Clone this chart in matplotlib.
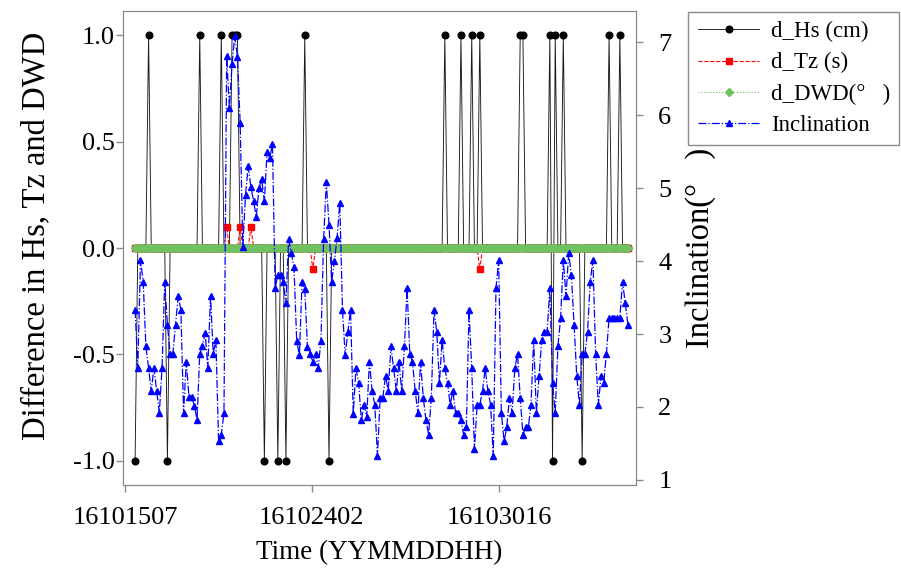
import numpy as np
import matplotlib
matplotlib.use('Agg')
import matplotlib.pyplot as plt

plt.rcParams['font.family'] = ['Liberation Serif', 'DejaVu Serif']

# inclination (deg), one value per record
inclination = [
    3.33, 2.54, 4.01, 3.72, 2.83, 2.54, 2.22, 2.54, 2.22, 1.92,
    2.54, 3.72, 3.13, 2.73, 2.73, 3.13, 3.52, 3.33, 1.92, 2.62,
    2.14, 2.14, 2.02, 1.82, 2.73, 2.83, 3.02, 2.54, 3.52, 2.73,
    2.92, 1.53, 1.62, 1.92,
    6.81, 6.10, 6.70, 7.09, 6.80, 5.90, 4.20, 4.91, 5.30, 5.02,
    4.82, 4.61, 5.00, 5.12, 4.82, 5.50, 5.41, 5.61, 3.63, 3.81,
    3.81, 3.72, 3.42, 4.30, 4.11, 3.92, 2.91, 2.71, 3.72, 3.62,
    2.82, 2.73, 2.62, 2.73, 2.54, 2.91, 4.30, 5.09, 4.50, 3.72,
    4.00, 4.32, 4.80, 3.33, 2.71, 3.03, 3.33, 1.91, 2.53, 2.33,
    1.82, 2.03, 1.86, 2.62, 2.22, 2.03, 1.33, 2.13, 2.13, 2.43,
    2.22, 2.83, 2.53, 2.22, 2.62, 2.22, 2.83, 3.63, 2.73, 2.62,
    2.22, 1.92, 2.62, 2.13, 1.82, 1.62, 2.13, 3.33, 3.03, 2.33,
    2.92, 2.53, 2.33, 2.03, 2.22, 1.92, 1.92, 1.82, 1.62, 1.72,
    3.33, 2.53, 1.42, 2.03, 2.03, 2.22, 2.53, 2.22, 2.03, 1.33,
    3.63, 4.01, 1.92, 1.53, 1.72, 2.13, 1.92, 2.53, 2.73, 2.13,
    1.62, 1.72, 1.72, 2.03, 2.92, 1.92, 2.42, 2.92, 3.03, 3.03,
    3.63, 2.33, 1.92, 2.83, 3.22, 4.02, 3.52, 4.11, 3.81, 3.13,
    2.42, 2.03, 2.73, 2.73, 3.03, 3.72, 4.02, 2.73, 2.03, 2.42,
    2.33, 2.73, 3.22, 3.22, 3.22, 3.22, 3.22, 3.72, 3.42, 3.13,
]
n = len(inclination)

# differences are zero except at these records
hs_up = [5, 24, 32, 36, 37, 38, 63, 115, 121, 125, 128, 143, 144,
         154, 156, 159, 176, 180]
hs_down = [0, 12, 48, 53, 56, 72, 155, 166]
tz_up = [34, 39, 43]
tz_down = [66, 128]

tick_pos = [-3.7, 65.5, 135.1]
tick_labels = ['16101507', '16102402', '16103016']

x = np.arange(n)
d_hs = np.zeros(n)
d_hs[hs_up] = 1.0
d_hs[hs_down] = -1.0
d_tz = np.zeros(n)
d_tz[tz_up] = 0.1
d_tz[tz_down] = -0.1
d_dwd = np.zeros(n)

fig = plt.figure(figsize=(9.01, 5.68), dpi=100)
ax = fig.add_axes([0.1365, 0.1461, 0.5694, 0.8345])
ax2 = ax.twinx()

l1, = ax.plot(x, d_hs, color='#1a1a1a', lw=0.65, marker='o', ms=4.8,
              mfc='black', mec='black', label='d_Hs (cm)', zorder=2)
l2, = ax.plot(x, d_tz, color='red', lw=0.8, ls='--', marker='s', ms=4.3,
              label='d_Tz (s)', zorder=3)
l3, = ax.plot(x, d_dwd, color='#70c160', lw=0.8, ls=':', marker='D', ms=4.4,
              label='d_DWD(\u00b0   )', zorder=4)
l4, = ax2.plot(x, inclination, color='blue', lw=0.9, ls='-.', marker='^',
               ms=4.8, label='Inclination')

ax.set_xlim(-4.5, 186.0)
ax.set_ylim(-1.115, 1.115)
ax2.set_ylim(0.93, 7.43)

ax.set_xticks(tick_pos)
ax.set_xticklabels(tick_labels)
ax.set_yticks([-1.0, -0.5, 0.0, 0.5, 1.0])
ax.set_yticklabels(['-1.0', '-0.5', '0.0', '0.5', '1.0'])
ax2.set_yticks([1, 2, 3, 4, 5, 6, 7])

for a in (ax, ax2):
    for s in a.spines.values():
        s.set_color('#8a8a8a')
    a.tick_params(colors='#8a8a8a', labelcolor='black', labelsize=19,
                  length=5, width=1)
ax.tick_params(axis='x', pad=11)
ax.tick_params(axis='y', pad=1)
ax2.tick_params(axis='y', pad=11)

ax.set_xlabel('Time (YYMMDDHH)', fontsize=19.5, labelpad=8)
ax.set_ylabel('Difference in Hs, Tz and DWD', fontsize=23.5)
ax.yaxis.set_label_coords(-0.14, 0.525)
ax2.set_ylabel('Inclination(\u00b0   )', fontsize=23.5, labelpad=10)

leg = fig.legend(handles=[l1, l2, l3, l4], loc='upper left',
                 bbox_to_anchor=(0.759, 0.987), fontsize=16.5,
                 fancybox=False, framealpha=1, edgecolor='#8a8a8a',
                 handlelength=2.7, handletextpad=0.5, borderaxespad=0.2,
                 labelspacing=0.44)
leg.get_frame().set_linewidth(1.0)

fig.savefig('out.png', dpi=100)
